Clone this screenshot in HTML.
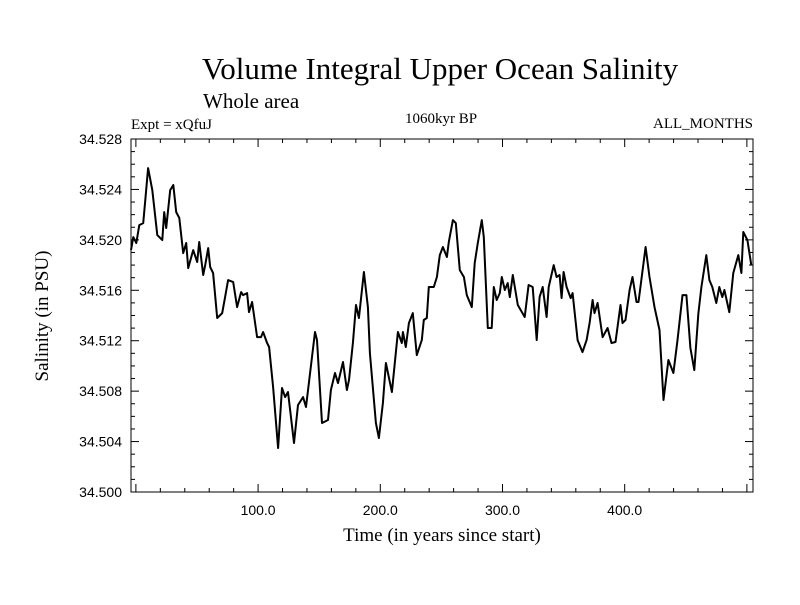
<!DOCTYPE html>
<html><head><meta charset="utf-8"><style>
body{margin:0;background:#fff;}
svg text{font-family:"Liberation Serif",serif;fill:#000;}
svg text.tk{font-family:"Liberation Sans",sans-serif;}
</style></head><body>
<svg id="chart" width="800" height="600">
<text x="440" y="79" font-size="31" text-anchor="middle">Volume Integral Upper Ocean Salinity</text>
<text x="203" y="108" font-size="21">Whole area</text>
<text x="131" y="129" font-size="15">Expt = xQfuJ</text>
<text x="441" y="123" font-size="15" text-anchor="middle">1060kyr BP</text>
<text x="753" y="128" font-size="15" text-anchor="end">ALL_MONTHS</text>
<text x="442" y="541" font-size="19" text-anchor="middle">Time (in years since start)</text>
<text transform="translate(48,316) rotate(-90)" font-size="19" text-anchor="middle">Salinity (in PSU)</text>
<g id="axes"></g>
<path id="line" fill="none" stroke="#000" stroke-width="2" stroke-linejoin="round"></path>
<rect x="131" y="139" width="622" height="353" fill="none" stroke="#000" stroke-width="1"></rect>
</svg>
<script>
const years=[-4,-2.1,0.3,2.8,6,7.7,10,13.4,17.5,21.6,23.2,24.8,28.1,30.6,33,35.5,38.7,41.2,42.8,46.9,50.2,51.8,55.1,56.7,59.2,60.8,63.2,66.5,70.6,73,75.5,79.6,82.8,86.1,87.7,91,92.6,95.1,99.2,102.4,104.1,107.4,109,112.3,116.4,119.6,122.1,124.5,129.4,132.7,136.8,139.2,146.6,148.2,152.3,157.2,159.6,162.9,165.4,169.5,172.7,174.4,177.6,180.1,182.5,186.6,189.9,191.5,196.4,198.9,202.1,204.6,209.5,214.4,217.6,218.5,220.9,223.4,226.6,229.9,234,235.6,238.1,239.7,243.8,246.3,248.7,251.2,254.5,256.1,259.4,261.8,265.1,268.4,270.8,274.9,277.3,279.8,283.1,284.7,288,291.2,292.9,295.3,297.8,299.4,301.9,304.3,306,308.4,312.5,318.2,321.4,324.7,328,330.4,332.9,336.1,337.8,341.9,344.3,346.7,348.4,350,352.5,355.8,357.4,361.5,365.5,368.8,371.3,373.7,375.3,377.8,381.9,386,389.2,392.5,396.6,398.2,400.7,404,406.4,409.7,411.3,417.1,420.3,424.4,428.5,431.8,435.8,439.9,443.2,447.3,450.5,453.8,457,460.3,462.8,466.8,469.3,471.7,475,477.4,479.9,481.6,485.6,488.9,493,495.5,497.1,500.4,503.6];
const salinity=[34.51919,34.52022,34.51975,34.52117,34.52133,34.52316,34.52569,34.52395,34.52038,34.51998,34.5222,34.52094,34.52395,34.52435,34.5222,34.52173,34.51895,34.51975,34.51776,34.51919,34.51824,34.51983,34.51721,34.518,34.51935,34.51784,34.51737,34.5138,34.51419,34.51546,34.51681,34.51665,34.51467,34.51586,34.51562,34.51578,34.51427,34.51507,34.51229,34.51229,34.51269,34.51182,34.5115,34.50833,34.50349,34.50825,34.50753,34.50793,34.50389,34.5069,34.50753,34.50674,34.51269,34.51205,34.50547,34.50571,34.50809,34.50944,34.50864,34.51031,34.50809,34.50888,34.51182,34.51483,34.5138,34.51745,34.51467,34.51102,34.50547,34.50428,34.50706,34.51023,34.50793,34.51269,34.51182,34.51269,34.5115,34.5134,34.51419,34.51086,34.51205,34.51364,34.5138,34.51626,34.51626,34.51705,34.51879,34.51943,34.51864,34.51983,34.52157,34.52133,34.5176,34.51705,34.51562,34.51467,34.51816,34.51975,34.52157,34.52022,34.51301,34.51301,34.51626,34.51523,34.51578,34.51705,34.51602,34.51657,34.51546,34.51721,34.51483,34.51388,34.51642,34.51626,34.51205,34.51546,34.51626,34.51388,34.51626,34.518,34.51705,34.51721,34.51538,34.51745,34.51626,34.51538,34.51578,34.51205,34.5111,34.51205,34.5134,34.51523,34.51419,34.51499,34.51229,34.51301,34.51182,34.5119,34.51483,34.5134,34.51364,34.51602,34.51705,34.51507,34.51507,34.51943,34.51705,34.51467,34.51285,34.5073,34.51047,34.50944,34.51205,34.51562,34.51562,34.51142,34.50967,34.51419,34.51626,34.51879,34.51681,34.51626,34.51499,34.51626,34.51546,34.51602,34.51427,34.51737,34.51879,34.51737,34.52062,34.51998,34.518];
const yTickValues=[34.500,34.504,34.508,34.512,34.516,34.520,34.524,34.528];
const yTickLabels=["34.500","34.504","34.508","34.512","34.516","34.520","34.524","34.528"];
const xTickValues=[100,200,300,400];
const xTickLabels=["100.0","200.0","300.0","400.0"];
const X0=131,X1=753,Y0=492,Y1=139,XMIN=-4,XMAX=505,YMIN=34.5,YMAX=34.528;
const sx=v=>X0+(v-XMIN)/(XMAX-XMIN)*(X1-X0);
const sy=v=>Y0-(v-YMIN)/(YMAX-YMIN)*(Y0-Y1);
const NS='http://www.w3.org/2000/svg';
const axes=document.getElementById('axes');
function ln(x1,y1,x2,y2){const l=document.createElementNS(NS,'line');l.setAttribute('x1',x1);l.setAttribute('y1',y1);l.setAttribute('x2',x2);l.setAttribute('y2',y2);l.setAttribute('stroke','#000');l.setAttribute('stroke-width','1');


axes.appendChild(l);}
function tx(x,y,s,anchor,name){const t=document.createElementNS(NS,'text');t.setAttribute('x',x);t.setAttribute('y',y);t.setAttribute('font-size','14');t.setAttribute('class','tk');t.setAttribute('text-anchor',anchor);t.textContent=s;


axes.appendChild(t);}
for(let v=34.500;v<=34.5281;v+=0.001){const y=sy(v);const maj=Math.abs(Math.round(v*1000)%4)==0;const L=maj?8:4;ln(X0,y,X0+L,y);ln(X1,y,X1-L,y);}
yTickValues.forEach((v,i)=>tx(122,sy(v)+5,yTickLabels[i],'end','y-tick-label'));
for(let v=0;v<=500;v+=20){const x=sx(v);const maj=v%100==0;const L=maj?8:4;ln(x,Y0,x,Y0-L);ln(x,Y1,x,Y1+L);}
xTickValues.forEach((v,i)=>tx(sx(v),515,xTickLabels[i],'middle','x-tick-label'));
let d='';years.forEach((v,i)=>{d+=(i?'L':'M')+sx(v).toFixed(1)+','+sy(salinity[i]).toFixed(1);});
document.getElementById('line').setAttribute('d',d);
</script>
</body></html>
